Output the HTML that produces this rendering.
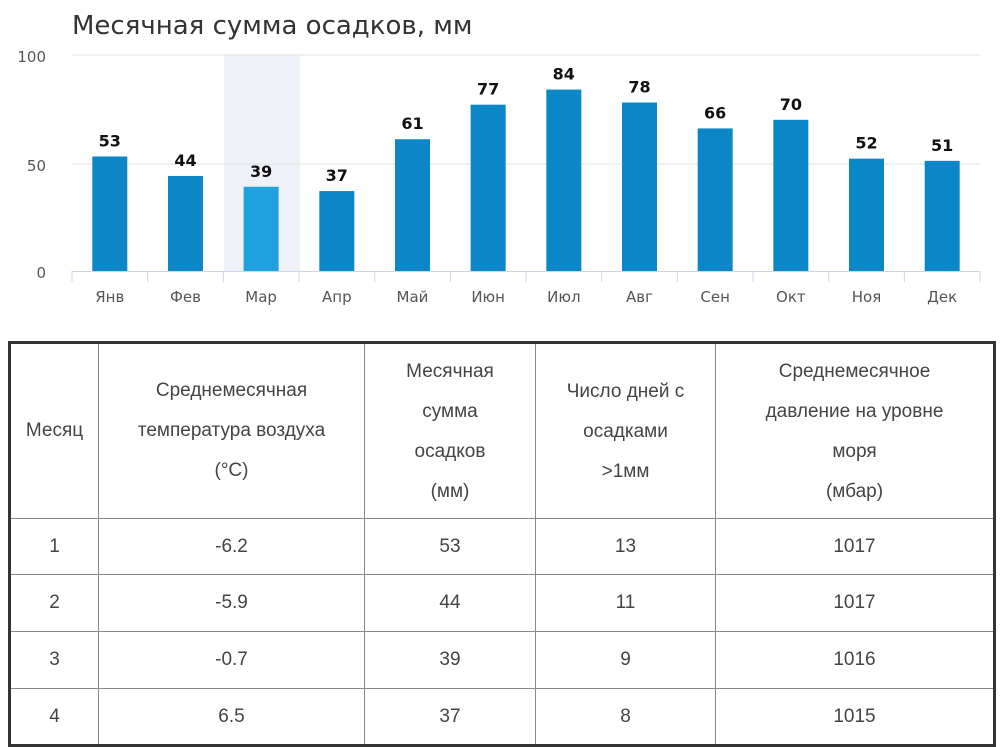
<!DOCTYPE html>
<html><head><meta charset="utf-8"><style>
body{margin:0;background:#fff;width:1000px;height:695px;overflow:hidden;position:relative;font-family:"Liberation Sans",sans-serif}
table{position:absolute;left:8px;top:341px;border-collapse:collapse;border:3px solid #333;color:#444;font-size:19px;text-align:center}
td{border:1px solid #888;padding:0;line-height:40px}
</style></head><body>
<svg width="1000" height="340" style="position:absolute;left:0;top:0" font-family="DejaVu Sans, sans-serif">
<text x="72" y="34" font-size="26" fill="#333">Месячная сумма осадков, мм</text>
<rect x="224" y="55" width="76" height="216" fill="#eef1f7"/>
<line x1="72" y1="55" x2="980" y2="55" stroke="#e2e2e2"/>
<line x1="72" y1="164" x2="980" y2="164" stroke="#e2e2e2"/>
<line x1="72" y1="271.5" x2="980" y2="271.5" stroke="#ccd6eb"/>
<g font-size="15" fill="#555" text-anchor="end"><text x="46" y="62">100</text><text x="46" y="171">50</text><text x="46" y="278">0</text></g>
<g id="g"></g>
</svg>
<script>
var v=[53,44,39,37,61,77,84,78,66,70,52,51],m=["Янв","Фев","Мар","Апр","Май","Июн","Июл","Авг","Сен","Окт","Ноя","Дек"],s="";
for(var i=0;i<12;i++){var c=72+37.8+i*75.67,h=v[i]*2.16;
s+='<rect x="'+(c-17.5)+'" y="'+(271-h)+'" width="35" height="'+h+'" fill="'+(i==2?"#21a0e0":"#0b86c6")+'"/>';
s+='<text x="'+c+'" y="'+(271-h-10)+'" font-size="16" font-weight="bold" fill="#111" text-anchor="middle">'+v[i]+'</text>';
s+='<text x="'+c+'" y="302" font-size="15" fill="#555" text-anchor="middle">'+m[i]+'</text>';
var t=72+i*75.67;s+='<line x1="'+t+'" y1="271" x2="'+t+'" y2="282" stroke="#ccd6eb"/>';}
s+='<line x1="980" y1="271" x2="980" y2="282" stroke="#ccd6eb"/>';
document.getElementById("g").innerHTML=s;
</script>
<table>
<tr style="height:176px"><td style="width:87px">Месяц</td><td style="width:265px">Среднемесячная<br>температура воздуха<br>(°C)</td><td style="width:170px;vertical-align:top;padding-top:8px">Месячная<br>сумма<br>осадков<br>(мм)</td><td style="width:179px;vertical-align:top;padding-top:28px">Число дней с<br>осадками<br>&gt;1мм</td><td style="width:277px;vertical-align:top;padding-top:8px">Среднемесячное<br>давление на уровне<br>моря<br>(мбар)</td></tr>
<tr style="height:56px"><td>1</td><td>-6.2</td><td>53</td><td>13</td><td>1017</td></tr>
<tr style="height:57px"><td>2</td><td>-5.9</td><td>44</td><td>11</td><td>1017</td></tr>
<tr style="height:57px"><td>3</td><td>-0.7</td><td>39</td><td>9</td><td>1016</td></tr>
<tr style="height:57px"><td>4</td><td>6.5</td><td>37</td><td>8</td><td>1015</td></tr>
</table>
</body></html>
